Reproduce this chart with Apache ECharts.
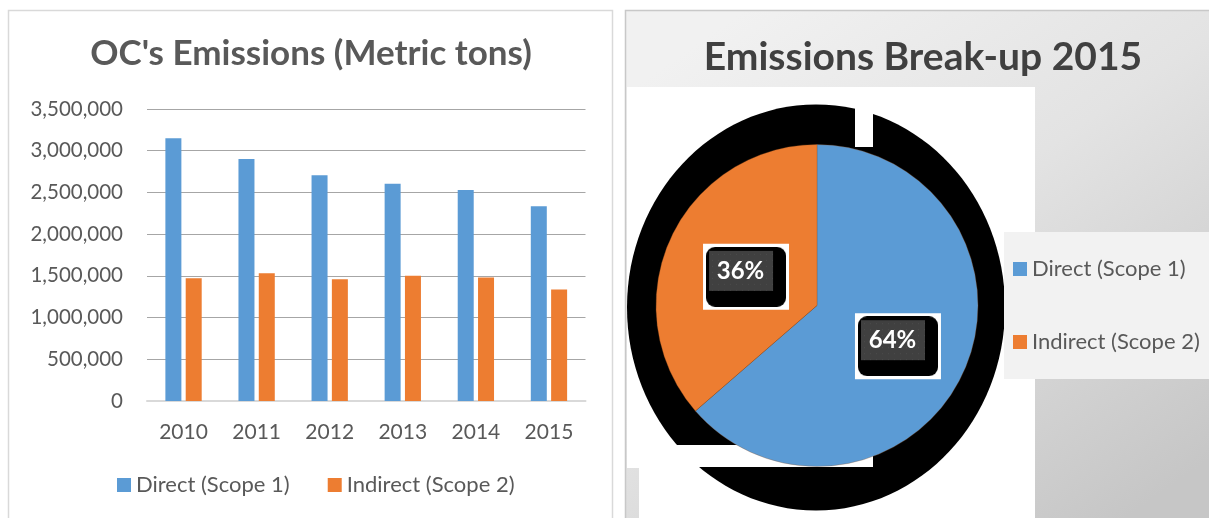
<!DOCTYPE html>
<html>
<head>
<meta charset="utf-8">
<script src="https://cdn.jsdelivr.net/npm/echarts@6/dist/echarts.min.js"></script>
<style>
  html, body { margin: 0; padding: 0; background: #ffffff; }
  #chart { width: 1209px; height: 518px; }
</style>
</head>
<body>
<div id="chart"></div>
<script>
// Emissions by year (metric tons)
const years = ['2010', '2011', '2012', '2013', '2014', '2015'];
const directScope1 = [3150000, 2900000, 2705000, 2605000, 2530000, 2335000];
const indirectScope2 = [1470000, 1530000, 1460000, 1500000, 1480000, 1335000];
const seriesNames = ['Direct (Scope 1)', 'Indirect (Scope 2)'];
const yTicks = { min: 0, max: 3500000, step: 500000 };

// Break-up pie uses the last year of both series
const pieYear = years.length - 1;
const pieData = [
  { name: seriesNames[0], value: directScope1[pieYear] },
  { name: seriesNames[1], value: indirectScope2[pieYear] }
];

const BLUE = '#5b9bd5';
const ORANGE = '#ed7d31';
const FONT = 'Lato, "Open Sans", sans-serif';

// Badge artwork for the percentage labels: dark dotted tile on a rounded black card
function makeBadge() {
  const c = document.createElement('canvas');
  c.width = 80; c.height = 60;
  const g = c.getContext('2d');
  g.fillStyle = '#000000';
  g.beginPath();
  g.roundRect(0, 0, 80, 60, 9);
  g.fill();
  g.fillStyle = '#404040';
  g.fillRect(3, 4, 64, 40);
  g.fillStyle = '#4c4c4c';
  for (let y = 7; y < 44; y += 6) {
    for (let x = 6; x < 67; x += 6) g.fillRect(x, y, 1, 1);
  }
  return c;
}
const badge = makeBadge();

const chart = echarts.init(document.getElementById('chart'), null, { renderer: 'canvas' });

chart.setOption({
  animation: false,
  color: [BLUE, ORANGE],
  textStyle: { fontFamily: FONT },
  title: [
    {
      text: "OC's Emissions (Metric tons)",
      left: 311, top: 36, padding: 0, textAlign: 'center',
      textStyle: { fontFamily: FONT, fontWeight: 'bold', fontSize: 35, color: '#595959' }
    },
    {
      text: 'Emissions Break-up ' + years[pieYear],
      left: 923, top: 38, padding: 0, textAlign: 'center',
      textStyle: { fontFamily: FONT, fontWeight: 'bold', fontSize: 39, color: '#404040' }
    }
  ],
  legend: [
    {
      data: seriesNames,
      left: 117, top: 474, padding: 0,
      itemWidth: 14, itemHeight: 14, itemGap: 38,
      icon: 'rect',
      textStyle: { fontFamily: FONT, fontSize: 22, color: '#595959' }
    },
    {
      data: seriesNames,
      orient: 'vertical',
      left: 1013, top: 258, padding: 0,
      itemWidth: 14, itemHeight: 14, itemGap: 51,
      icon: 'rect',
      textStyle: { fontFamily: FONT, fontSize: 22, color: '#595959' }
    }
  ],
  graphic: [
    // left panel frame
    { type: 'rect', z: -10, shape: { x: 8.5, y: 10.5, width: 604, height: 520 },
      style: { fill: '#ffffff', stroke: '#d9d9d9', lineWidth: 1.5 }, silent: true },
    // right panel gradient backdrop
    { type: 'rect', z: -10, shape: { x: 625.5, y: 10.5, width: 600, height: 520 },
      style: {
        fill: new echarts.graphic.LinearGradient(0.2, 0, 0.8, 1, [
          { offset: 0, color: '#f1f1f1' },
          { offset: 0.45, color: '#e3e3e3' },
          { offset: 1, color: '#c6c6c6' }
        ]),
        stroke: '#c8c8c8', lineWidth: 1.5
      }, silent: true },
    // white plot area behind the pie
    { type: 'rect', z: -9, shape: { x: 627, y: 87, width: 408, height: 381 },
      style: { fill: '#ffffff' }, silent: true },
    { type: 'rect', z: -9, shape: { x: 639, y: 468, width: 396, height: 60 },
      style: { fill: '#ffffff' }, silent: true },
    // black halo around the pie
    { type: 'ellipse', z: -8, shape: { cx: 816, cy: 307.5, rx: 189, ry: 203 },
      style: { fill: '#000000' }, silent: true },
    { type: 'rect', z: -7, shape: { x: 855, y: 87, width: 18, height: 60 },
      style: { fill: '#ffffff' }, silent: true },
    { type: 'rect', z: -7, shape: { x: 627, y: 445, width: 246, height: 22 },
      style: { fill: '#ffffff' }, silent: true },
    // pie legend box
    { type: 'rect', z: -6, shape: { x: 1004, y: 232, width: 210, height: 147 },
      style: { fill: '#f2f2f2' }, silent: true }
  ],
  grid: { left: 147, right: 623.5, top: 109, bottom: 117, containLabel: false },
  xAxis: {
    type: 'category',
    data: years,
    axisTick: { show: false },
    axisLine: { lineStyle: { color: '#d9d9d9', width: 2 } },
    axisLabel: { fontFamily: FONT, fontSize: 21, color: '#595959', margin: 21 }
  },
  yAxis: {
    type: 'value',
    min: yTicks.min, max: yTicks.max, interval: yTicks.step,
    axisLine: { show: false },
    axisTick: { show: false },
    axisLabel: {
      fontFamily: FONT, fontSize: 20.5, color: '#595959', margin: 24,
      formatter: v => v.toLocaleString('en-US')
    },
    splitLine: { lineStyle: { color: '#a6a6a6', width: 1 } }
  },
  series: [
    { name: seriesNames[0], type: 'bar', data: directScope1, barWidth: 16, barGap: '27%',
      itemStyle: { color: BLUE } },
    { name: seriesNames[1], type: 'bar', data: indirectScope2, barWidth: 16, barGap: '27%',
      itemStyle: { color: ORANGE } },
    {
      name: 'Break-up', type: 'pie',
      center: [817, 305.5], radius: 161,
      startAngle: 90, clockwise: true,
      percentPrecision: 0,
      data: pieData,
      itemStyle: { borderColor: 'rgba(150,80,30,0.6)', borderWidth: 0.5 },
      labelLine: { show: false },
      emphasis: { disabled: true },
      labelLayout: { dx: 5, dy: 6 },
      label: {
        show: true,
        position: 'inside',
        formatter: '{v|{d}%}',
        backgroundColor: '#ffffff',
        padding: 3,
        rich: {
          v: {
            color: '#ffffff', fontFamily: FONT, fontWeight: 'bold', fontSize: 24,
            width: 47, height: 24, align: 'center',
            backgroundColor: { image: badge },
            padding: [12, 22, 24, 11]
          }
        }
      }
    }
  ]
});
</script>
</body>
</html>
